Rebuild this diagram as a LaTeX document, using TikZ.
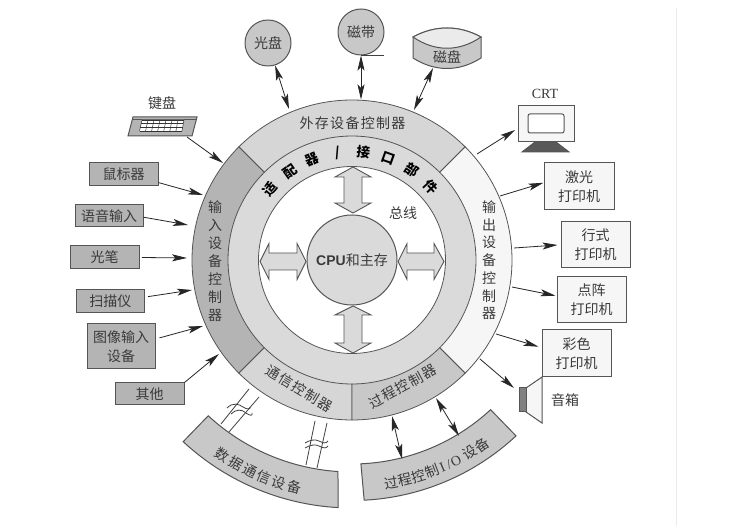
\documentclass[tikz,border=0pt]{standalone}
\usepackage{fontspec}
\setmainfont{Noto Sans CJK SC}
\newfontfamily\spacedcjk[LetterSpace=9]{Noto Sans CJK SC}
\newfontfamily\latinsans{Liberation Sans}
\newfontfamily\latinserif{Liberation Serif}
\usetikzlibrary{arrows.meta,calc}
\definecolor{edgec}{HTML}{555555}
\definecolor{textc}{HTML}{3A3A3A}
\definecolor{darkf}{HTML}{B4B4B4}
\definecolor{midf}{HTML}{D6D6D6}
\definecolor{ringf}{HTML}{DADADA}
\definecolor{procf}{HTML}{C8C8C8}
\definecolor{lightf}{HTML}{F6F6F6}
\tikzset{
  x=1pt,y=1pt,
  cjk/.style={font=\fontsize{14}{19}\selectfont,text=textc,align=center,inner sep=0pt},
  lbox/.style={cjk,draw=edgec,line width=1pt,fill=darkf},
  rbox/.style={cjk,draw=edgec,line width=1pt,fill=lightf},
  roundn/.style={cjk,circle,draw=edgec,line width=1pt,fill=procf,minimum size=46pt},
  seg/.style={draw=edgec,line width=0.8pt},
  conn/.style={draw=black!85,line width=0.8pt,-{Stealth[length=15pt,width=7pt,inset=3.5pt]}},
  biconn/.style={draw=black!85,line width=0.8pt,{Stealth[length=15pt,width=7pt,inset=3.5pt]}-{Stealth[length=15pt,width=7pt,inset=3.5pt]}},
  blockarrow/.style={draw=edgec,line width=0.9pt,fill=ringf},
  thinl/.style={draw=black!75,line width=0.8pt}
}
\begin{document}
\begin{tikzpicture}
\useasboundingbox (0,0) rectangle (739,-526);
\fill[white] (0,0) rectangle (739,-526);
\draw[black!8,line width=0.8pt] (676,-8) -- (676,-526);

% ring
\begin{scope}[shift={(352,-260)}]
  \fill[ringf] (0,0) circle (124);
  \draw[seg,fill=midf] (135:160) arc (135:45:160) -- (45:124) arc (45:135:124) -- cycle;
  \draw[seg,fill=lightf] (45:160) arc (45:-45:160) -- (-45:124) arc (-45:45:124) -- cycle;
  \draw[seg,fill=darkf] (135:160) arc (135:225:160) -- (225:124) arc (225:135:124) -- cycle;
  \draw[seg,fill=midf] (225:160) arc (225:270:160) -- (270:124) arc (270:225:124) -- cycle;
  \draw[seg,fill=procf] (270:160) arc (270:315:160) -- (315:124) arc (315:270:124) -- cycle;
  \draw[seg,fill=white] (0,0) circle (93.5);
  % adapter text
  \foreach \c [count=\i from 0] in {适,配,器,/,接,口,部,件} {
    \pgfmathsetmacro\ang{139-\i*13.75}
    \pgfmathsetmacro\rot{\ang-90}
    \node[cjk,text=black,font=\fontsize{13.5}{16}\bfseries\selectfont,rotate=\rot] (ad\i) at (\ang:108) {\c};
  }
  % bottom bands
  \draw[seg,fill=procf,line width=1pt] (227.3:212) arc (227.3:266.2:212) -- (266.8:248) arc (266.8:227.1:248) -- cycle;
  \draw[seg,fill=procf,line width=1pt] (272.5:204) arc (272.5:312.8:204) -- (313:240.5) arc (313:272.9:240.5) -- cycle;
  \foreach \c [count=\i from 0] in {数,据,通,信,设,备} {
    \pgfmathsetmacro\ang{236.4+\i*3.86}
    \pgfmathsetmacro\rot{\ang-270}
    \node[cjk,rotate=\rot] (dd\i) at (\ang:234) {\c};
  }
  \foreach \c/\ang in {过/280,程/283.6,控/287.2,制/290.8,{\latinserif I}/293.6,{\latinserif /}/295.4,{\latinserif O}/297.4,设/301.4,备/305.2} {
    \pgfmathsetmacro\rot{\ang-270}
    \node[cjk,rotate=\rot] at (\ang:226) {\c};
  }
\end{scope}

% centre
\node[cjk,circle,draw=edgec,line width=1pt,fill=ringf,minimum size=90pt] (cpu) at (352,-260) {\textbf{\latinsans CPU}和主存};
\draw[blockarrow] (353,-167) -- (371,-177) -- (362,-177) -- (362,-203) -- (371,-203) -- (353,-213) -- (335,-203) -- (344,-203) -- (344,-177) -- (335,-177) -- cycle;
\draw[blockarrow] (353,-306) -- (371,-315) -- (362,-315) -- (362,-343) -- (371,-343) -- (353,-353) -- (335,-343) -- (344,-343) -- (344,-315) -- (335,-315) -- cycle;
\draw[blockarrow] (260,-261.5) -- (269,-243.5) -- (269,-253) -- (297,-253) -- (297,-243.5) -- (306,-261.5) -- (297,-279.5) -- (297,-270) -- (269,-270) -- (269,-279.5) -- cycle;
\draw[blockarrow] (398,-261.5) -- (407,-243.5) -- (407,-253) -- (434,-253) -- (434,-243.5) -- (444,-261.5) -- (434,-279.5) -- (434,-270) -- (407,-270) -- (407,-279.5) -- cycle;
\node[cjk] (bus) at (403,-213) {总线};

% ring texts
\node[cjk,font=\fontsize{14}{19}\spacedcjk] (ext) at (352.5,-123) {外存设备控制器};
\node[cjk,font=\fontsize{14}{19}\spacedcjk,rotate=-31] (comm) at (299.5,-388.5) {通信控制器};
\node[cjk,font=\fontsize{14}{19}\spacedcjk,rotate=28.5] (proc) at (402.5,-386.5) {过程控制器};
\foreach \c [count=\i from 0] in {输,入,设,备,控,制,器} {
  \node[cjk] (in\i) at (215,-207-\i*18) {\c};
}
\foreach \c [count=\i from 0] in {输,出,设,备,控,制,器} {
  \node[cjk] (out\i) at (489,-207-\i*17.8) {\c};
}

% ring target points
\coordinate (tKbd) at (223,-163);
\coordinate (tMouse) at (203,-195);
\coordinate (tVoice) at (188,-225);
\coordinate (tPen) at (187,-258);
\coordinate (tScan) at (192,-290);
\coordinate (tImage) at (203,-326);
\coordinate (tOther) at (219,-354);
\coordinate (tOpt) at (289,-109);
\coordinate (tTape) at (361,-99.5);
\coordinate (tDisk) at (414,-110);
\coordinate (sCrt) at (477,-154);
\coordinate (sLaser) at (500,-196);
\coordinate (sLine) at (514,-248);
\coordinate (sDot) at (512,-287);
\coordinate (sColor) at (496,-334);
\coordinate (sSpk) at (480,-359);
\coordinate (tCrt) at (515,-130);
\coordinate (tSpk) at (514,-388);
\coordinate (kbdEnd) at (187,-137);
\coordinate (p1a) at (392,-416);
\coordinate (p1b) at (402,-459);
\coordinate (p2a) at (436,-398);
\coordinate (p2b) at (459,-436);

% left boxes
\node[lbox,minimum width=69pt,minimum height=23pt] (mouse) at (123.5,-174.5) {鼠标器};
\node[lbox,minimum width=68pt,minimum height=22pt] (voice) at (109,-216) {语音输入};
\node[lbox,minimum width=69pt,minimum height=23pt] (pen) at (104.5,-257.5) {光笔};
\node[lbox,minimum width=68.5pt,minimum height=23pt] (scan) at (110.3,-301.5) {扫描仪};
\node[lbox,minimum width=68pt,minimum height=45pt] (image) at (121,-346.5) {图像输入\\设备};
\node[lbox,minimum width=69pt,minimum height=22pt] (other) at (149.5,-394) {其他};
\draw[conn] (mouse.-13) -- (tMouse);
\draw[conn] (voice.-2) -- (tVoice);
\draw[conn] ([xshift=2.5pt]pen.east) -- (tPen);
\draw[conn] ([xshift=3pt]scan.8) -- (tScan);
\draw[conn] ([xshift=4pt]image.14) -- (tImage);
\draw[conn] (other.north east) -- (tOther);

% keyboard
\draw[edgec,line width=1pt,fill=darkf] (133,-117) -- (197,-117) -- (192,-136) -- (128,-136) -- cycle;
\draw[edgec,line width=0.8pt] (132.3,-119.5) -- (196.3,-119.5);
\fill[white] (142,-120) -- (184,-120) -- (182,-131) -- (139.5,-131) -- cycle;
\foreach \i in {0,...,7} {
  \draw[black!80,line width=0.5pt] ({142+\i*6},-120) -- ({139.5+\i*6.07},-131);
}
\foreach \f in {0,1,2,3} {
  \draw[black!80,line width=0.5pt] ({142-\f*0.83},{-120-\f*3.67}) -- ({184-\f*0.67},{-120-\f*3.67});
}
\node[cjk] (kbdl) at (162,-103) {键盘};
\draw[conn] (kbdEnd) -- (tKbd);

% top devices
\node[roundn] (opt) at (268,-43) {光盘};
\node[roundn] (tape) at (361,-32) {磁带};
\draw[thinl] (tape.south) -- ++(23,0);
\draw[edgec,line width=1pt,fill=procf] (413,-37) .. controls (435,-25) and (459,-25) .. (481,-37) -- (481,-58) .. controls (459,-72) and (435,-72) .. (413,-58) -- cycle;
\draw[edgec,line width=1pt,fill=black!8] (413,-37) .. controls (435,-25) and (459,-25) .. (481,-37) .. controls (459,-52) and (435,-52) .. (413,-37) -- cycle;
\node[cjk] (disk) at (447,-57) {磁盘};
\coordinate (diskEnd) at (433,-68);
\draw[biconn] (opt) -- (tOpt);
\draw[biconn] (tape.south) -- (tTape);
\draw[biconn] (diskEnd) -- (tDisk);

% CRT
\node[cjk,font=\fontsize{14}{17}\latinserif\selectfont] (crtl) at (545,-94) {CRT};
\draw[edgec,line width=1pt,fill=black!65] (535,-142) -- (556,-142) -- (569,-152) -- (522,-152) -- cycle;
\node[rbox,minimum width=56pt,minimum height=36pt] (crt) at (546,-124) {};
\draw[edgec,line width=1pt,fill=white,rounded corners=2pt] (528,-114) rectangle (564,-133);
\draw[conn] (sCrt) -- (tCrt);

% right boxes
\node[rbox,minimum width=70pt,minimum height=47pt] (laser) at (579,-186.5) {激光\\打印机};
\node[rbox,minimum width=69pt,minimum height=46pt] (linep) at (595.5,-245) {行式\\打印机};
\node[rbox,minimum width=69pt,minimum height=46pt] (dotp) at (591.5,-300) {点阵\\打印机};
\node[rbox,minimum width=69pt,minimum height=47pt] (colorp) at (576.5,-353.5) {彩色\\打印机};
\draw[conn] (sLaser) -- (laser.174);
\draw[conn] (sLine) -- ([xshift=-3pt]linep.west);
\draw[conn] (sDot) -- ([xshift=-1pt]dotp.173);
\draw[conn] (sColor) -- ([xshift=-3pt]colorp.169);

% speaker
\draw[edgec,line width=1pt,fill=lightf] (526,-388) -- (542,-377) -- (542,-423) -- (526,-412) -- cycle;
\draw[edgec,line width=1pt,fill=black!50] (519,-388) rectangle (526,-412);
\node[cjk] (spk) at (565,-400) {音箱};
\draw[conn] (sSpk) -- (tSpk);

% process arrows
\draw[biconn] (p1a) -- (p1b);
\draw[biconn] (p2a) -- (p2b);

% broken lines
\draw[thinl] (249,-389) -- (221,-424);
\draw[thinl] (259,-397) -- (229,-432);
\draw[thinl] (227,-408) .. controls (233,-402) and (239,-404) .. (243,-407) .. controls (247,-410) and (251,-409) .. (250,-407);
\draw[thinl] (231,-414) .. controls (236,-409) and (242,-409) .. (246,-413) .. controls (250,-416) and (253,-416) .. (252,-413);
\draw[thinl] (315,-421) -- (306,-465);
\draw[thinl] (327,-423) -- (317,-468);
\draw[thinl] (305,-443) .. controls (310,-440) and (315,-439) .. (319,-441) .. controls (323,-443) and (326,-444) .. (328,-441);
\draw[thinl] (305,-448) .. controls (310,-445) and (315,-444) .. (319,-446) .. controls (323,-448) and (326,-449) .. (328,-446);
\end{tikzpicture}
\end{document}
